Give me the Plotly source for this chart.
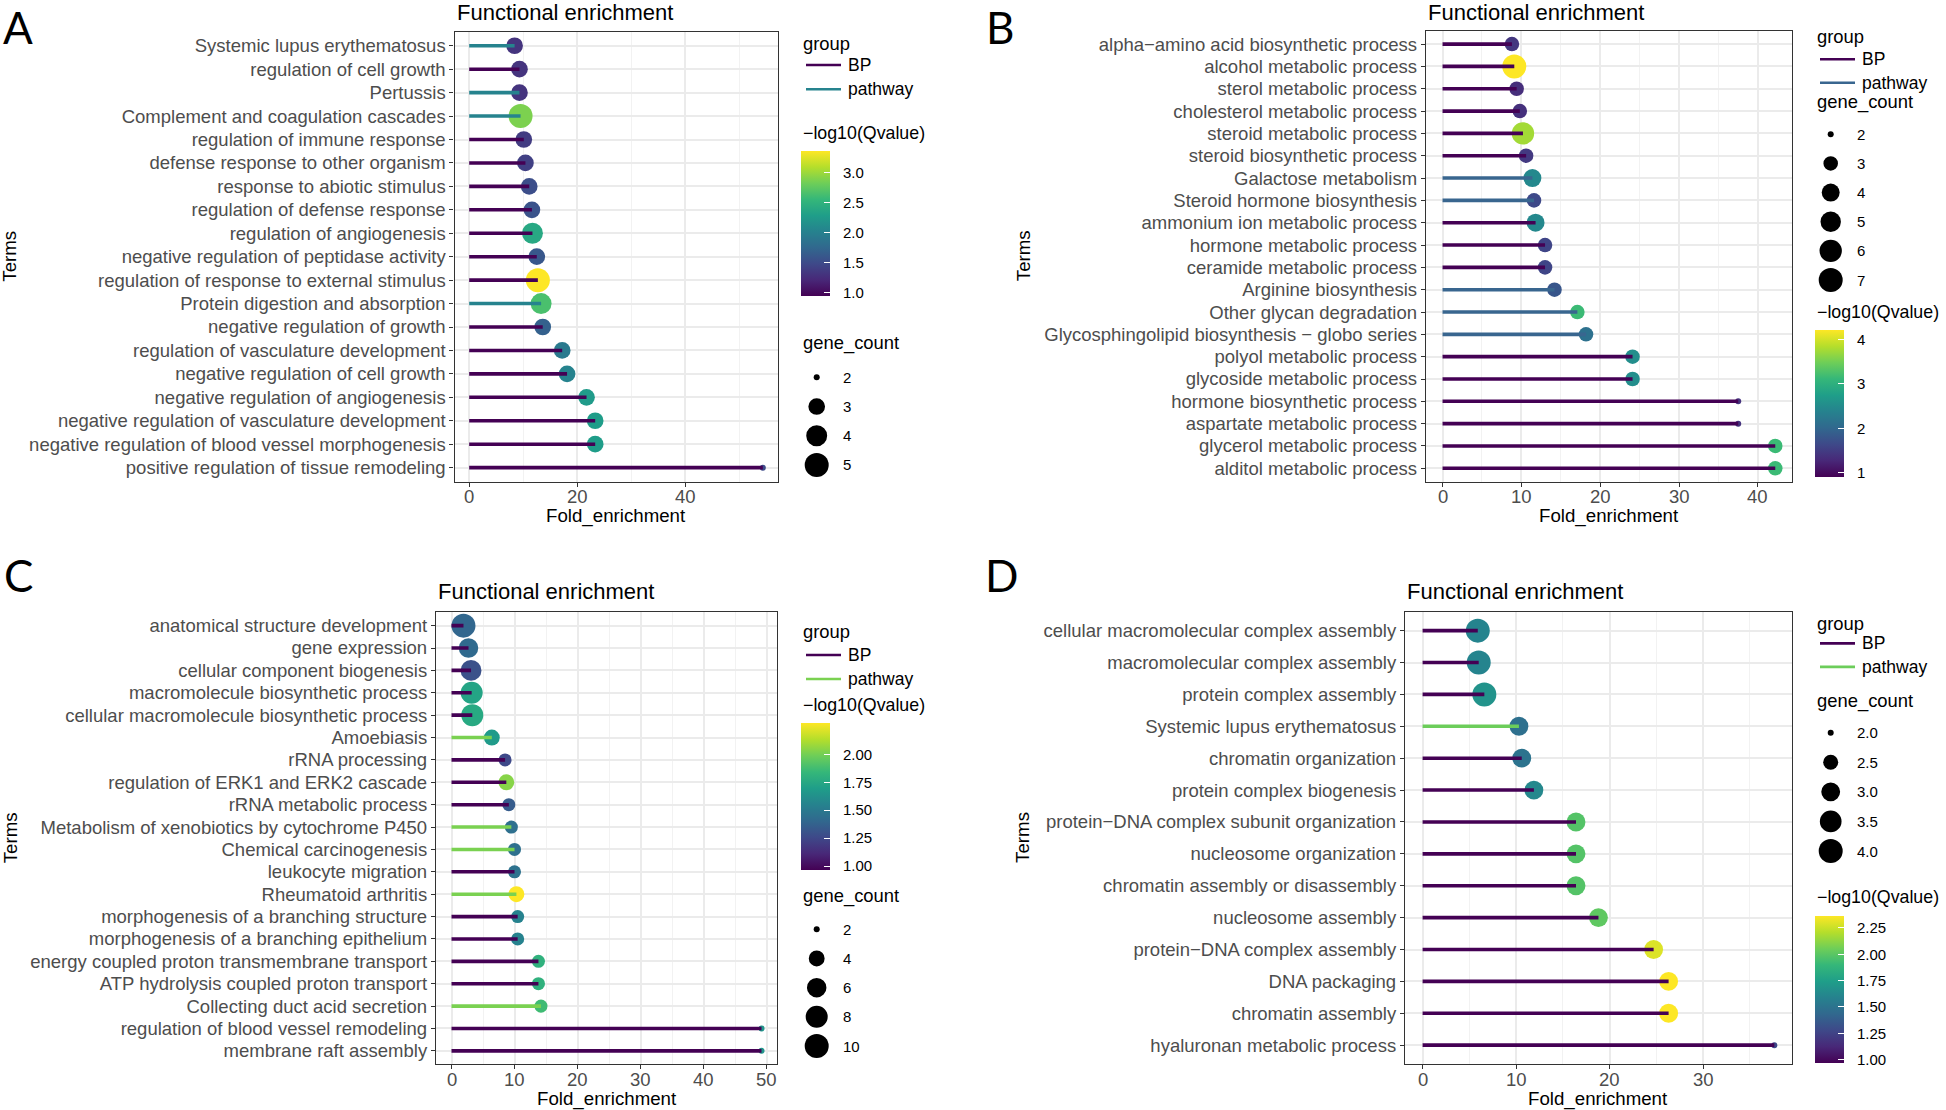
import math
import plotly.graph_objects as go

# ---------------- data ----------------
terms_a = ["Systemic lupus erythematosus", "regulation of cell growth", "Pertussis",
           "Complement and coagulation cascades", "regulation of immune response",
           "defense response to other organism", "response to abiotic stimulus",
           "regulation of defense response", "regulation of angiogenesis",
           "negative regulation of peptidase activity", "regulation of response to external stimulus",
           "Protein digestion and absorption", "negative regulation of growth",
           "regulation of vasculature development", "negative regulation of cell growth",
           "negative regulation of angiogenesis", "negative regulation of vasculature development",
           "negative regulation of blood vessel morphogenesis", "positive regulation of tissue remodeling"]
fold_a = [8.4, 9.3, 9.3, 9.5, 10.1, 10.4, 11.1, 11.6, 11.7, 12.5, 12.7, 13.3, 13.6,
          17.2, 18.1, 21.7, 23.3, 23.3, 54.3]
group_a = ["pathway", "BP", "pathway", "pathway", "BP", "BP", "BP", "BP", "BP", "BP", "BP",
           "pathway", "BP", "BP", "BP", "BP", "BP", "BP", "BP"]
q_a = [1.31, 1.31, 1.31, 2.87, 1.38, 1.41, 1.53, 1.57, 2.39, 1.60, 3.35, 2.65, 1.69,
       1.93, 2.03, 2.25, 2.27, 2.27, 1.50]
count_a = [3, 3, 3, 5, 3, 3, 3, 3, 4, 3, 5, 4, 3, 3, 3, 3, 3, 3, 2]

terms_b = ["alpha\u2212amino acid biosynthetic process", "alcohol metabolic process",
           "sterol metabolic process", "cholesterol metabolic process", "steroid metabolic process",
           "steroid biosynthetic process", "Galactose metabolism", "Steroid hormone biosynthesis",
           "ammonium ion metabolic process", "hormone metabolic process", "ceramide metabolic process",
           "Arginine biosynthesis", "Other glycan degradation",
           "Glycosphingolipid biosynthesis \u2212 globo series", "polyol metabolic process",
           "glycoside metabolic process", "hormone biosynthetic process", "aspartate metabolic process",
           "glycerol metabolic process", "alditol metabolic process"]
fold_b = [8.8, 9.1, 9.4, 9.8, 10.2, 10.6, 11.4, 11.6, 11.8, 13.0, 13.0, 14.2, 17.1, 18.2,
          24.1, 24.1, 37.5, 37.5, 42.2, 42.2]
group_b = ["BP", "BP", "BP", "BP", "BP", "BP", "pathway", "pathway", "BP", "BP", "BP",
           "pathway", "pathway", "pathway", "BP", "BP", "BP", "BP", "BP", "BP"]
q_b = [1.44, 4.21, 1.34, 1.37, 3.75, 1.47, 2.46, 1.64, 2.46, 1.60, 1.60, 1.80, 3.15, 2.13,
       2.53, 2.53, 1.40, 1.40, 3.15, 3.15]
count_b = [3, 7, 3, 3, 6, 3, 4, 3, 4, 3, 3, 3, 3, 3, 3, 3, 2, 2, 3, 3]

terms_c = ["anatomical structure development", "gene expression", "cellular component biogenesis",
           "macromolecule biosynthetic process", "cellular macromolecule biosynthetic process",
           "Amoebiasis", "rRNA processing", "regulation of ERK1 and ERK2 cascade",
           "rRNA metabolic process", "Metabolism of xenobiotics by cytochrome P450",
           "Chemical carcinogenesis", "leukocyte migration", "Rheumatoid arthritis",
           "morphogenesis of a branching structure", "morphogenesis of a branching epithelium",
           "energy coupled proton transmembrane transport", "ATP hydrolysis coupled proton transport",
           "Collecting duct acid secretion", "regulation of blood vessel remodeling",
           "membrane raft assembly"]
fold_c = [1.9, 2.7, 3.1, 3.2, 3.3, 6.4, 8.5, 8.7, 9.1, 9.5, 10.0, 10.0, 10.3, 10.5, 10.5,
          13.8, 13.8, 14.2, 49.2, 49.2]
group_c = ["BP", "BP", "BP", "BP", "BP", "pathway", "BP", "BP", "BP", "pathway", "pathway",
           "BP", "pathway", "BP", "BP", "BP", "BP", "pathway", "BP", "BP"]
q_c = [1.40, 1.42, 1.30, 1.73, 1.76, 1.68, 1.26, 2.04, 1.35, 1.45, 1.45, 1.46, 2.28, 1.55,
       1.55, 1.81, 1.81, 1.87, 1.65, 1.65]
count_c = [10, 6, 7, 8, 8, 4, 3, 4, 3, 3, 3, 3, 4, 3, 3, 3, 3, 3, 2, 2]

terms_d = ["cellular macromolecular complex assembly", "macromolecular complex assembly",
           "protein complex assembly", "Systemic lupus erythematosus", "chromatin organization",
           "protein complex biogenesis", "protein\u2212DNA complex subunit organization",
           "nucleosome organization", "chromatin assembly or disassembly", "nucleosome assembly",
           "protein\u2212DNA complex assembly", "DNA packaging", "chromatin assembly",
           "hyaluronan metabolic process"]
fold_d = [5.9, 6.0, 6.6, 10.3, 10.6, 11.9, 16.4, 16.4, 16.4, 18.8, 24.7, 26.3, 26.3, 37.6]
group_d = ["BP", "BP", "BP", "pathway", "BP", "BP", "BP", "BP", "BP", "BP", "BP", "BP", "BP", "BP"]
q_d = [1.60, 1.60, 1.68, 1.48, 1.50, 1.62, 1.98, 1.98, 1.98, 2.01, 2.29, 2.36, 2.36, 1.28]
count_d = [4, 4, 4, 3, 3, 3, 3, 3, 3, 3, 3, 3, 3, 2]

# legend / scale settings
qlim = {"A": (0.95, 3.35), "B": (0.91, 4.21), "C": (0.97, 2.28), "D": (0.97, 2.36)}
qticks = {"A": [1.0, 1.5, 2.0, 2.5, 3.0], "B": [1, 2, 3, 4],
          "C": [1.0, 1.25, 1.5, 1.75, 2.0], "D": [1.0, 1.25, 1.5, 1.75, 2.0, 2.25]}
qfmt = {"A": "{:.1f}", "B": "{:.0f}", "C": "{:.2f}", "D": "{:.2f}"}
size_keys = {"A": [2, 3, 4, 5], "B": [2, 3, 4, 5, 6, 7], "C": [2, 4, 6, 8, 10],
             "D": [2.0, 2.5, 3.0, 3.5, 4.0]}
size_fmt = {"A": "{:.0f}", "B": "{:.0f}", "C": "{:.0f}", "D": "{:.1f}"}

# ---------------- layout helpers ----------------
W, H = 1946, 1110
FONT = "Liberation Sans, Arial, sans-serif"
BP_COLOR = "#440154"


def px(x):
    return x / W


def py(y):
    return 1 - y / H


def dot(g, gmin, gmax):
    t = (math.sqrt(g) - math.sqrt(gmin)) / (math.sqrt(gmax) - math.sqrt(gmin))
    return 6 + 18 * t ** 0.55


panels = [
    dict(key="A", terms=terms_a, fold=fold_a, grp=group_a, q=q_a, cnt=count_a,
         dtick=20, path_color="#26838E", box=(454.5, 777.5, 31.7, 481.7), letter=(18, 27),
         terms_x=10, leg_x=801, grp_y=(43.3, 65, 89.3), q_title=132.7, cb=(151, 296),
         s_title=343.3, s_y=(377.3, 465)),
    dict(key="B", terms=terms_b, fold=fold_b, grp=group_b, q=q_b, cnt=count_b,
         dtick=10, path_color="#39668F", box=(1425.9, 1791.9, 30.7, 481.7), letter=(999.5, 27),
         terms_x=1023, leg_x=1815, grp_y=(36.7, 59.3, 82.7), q_title=311.7, cb=(330, 476.7),
         s_title=101.7, s_y=(134.3, 280)),
    dict(key="C", terms=terms_c, fold=fold_c, grp=group_c, q=q_c, cnt=count_c,
         dtick=10, path_color="#7AD151", box=(436, 777, 612.2, 1064.3), letter=(18.5, 575),
         terms_x=10, leg_x=801, grp_y=(631.7, 655, 679), q_title=705, cb=(722.7, 869.3),
         s_title=896, s_y=(929.3, 1046)),
    dict(key="D", terms=terms_d, fold=fold_d, grp=group_d, q=q_d, cnt=count_d,
         dtick=10, path_color="#6CCD5A", box=(1405, 1791.9, 611.5, 1064.3), letter=(1001, 575),
         terms_x=1023, leg_x=1815, grp_y=(623.7, 643.4, 666.9), q_title=897, cb=(916, 1063),
         s_title=700.8, s_y=(732.7, 851)),
]

fig = go.Figure()
annotations = []
shapes = []
layout_axes = {}


def ann(text, x, y, size, color="black", xanchor="left", angle=0, family=FONT, xref="paper"):
    annotations.append(dict(text=text, x=x if xref != "paper" else px(x), y=py(y),
                            xref=xref, yref="paper",
                            xanchor=xanchor, yanchor="middle", showarrow=False,
                            textangle=angle, font=dict(family=family, size=size, color=color)))


for i, p in enumerate(panels, start=1):
    k = p["key"]
    sfx = "" if i == 1 else str(i)
    xa, ya, ca = "x" + sfx, "y" + sfx, "coloraxis" + sfx
    n = len(p["terms"])
    gmin, gmax = min(p["cnt"]), max(p["cnt"])
    x0, x1, ytop, ybot = p["box"]

    # points first, segments drawn over them
    fig.add_trace(go.Scatter(
        x=p["fold"], y=p["terms"], mode="markers", xaxis=xa, yaxis=ya, showlegend=False,
        marker=dict(size=[dot(c, gmin, gmax) for c in p["cnt"]], color=p["q"],
                    coloraxis=ca, line=dict(width=0), opacity=1)))
    for g, col in (("BP", BP_COLOR), ("pathway", p["path_color"])):
        xs, ys = [], []
        for t, v, gg in zip(p["terms"], p["fold"], p["grp"]):
            if gg == g:
                xs += [0, v, None]
                ys += [t, t, None]
        fig.add_trace(go.Scatter(x=xs, y=ys, mode="lines", xaxis=xa, yaxis=ya,
                                 showlegend=False, line=dict(color=col, width=3.6)))

    xmax = max(p["fold"])
    common = dict(showline=True, mirror=True, linecolor="#333333", linewidth=1.3,
                  ticks="outside", ticklen=4, tickcolor="#333333", tickwidth=1.2,
                  tickfont=dict(family=FONT, size=18.5, color="#4D4D4D"),
                  showgrid=True, gridcolor="#EBEBEB", gridwidth=1.6, zeroline=False,
                  automargin=False)
    layout_axes["xaxis" + sfx] = dict(
        domain=[px(x0), px(x1)], anchor=ya, range=[-0.05 * xmax, 1.05 * xmax],
        tick0=0, dtick=p["dtick"], showticklabels=False,
        minor=dict(dtick=p["dtick"] / 2, showgrid=True, gridcolor="#F2F2F2", gridwidth=0.9),
        **common)
    layout_axes["yaxis" + sfx] = dict(
        domain=[py(ybot), py(ytop)], anchor=xa, type="category",
        categoryorder="array", categoryarray=p["terms"], range=[n - 0.4, -0.6], **common)

    # x tick labels placed on the data scale
    tv = 0
    while tv <= 1.05 * xmax:
        ann(str(tv), tv, ybot + 15, 18.5, color="#4D4D4D", xanchor="center", xref=xa)
        tv += p["dtick"]

    # colour scale
    cmin, cmax = qlim[k]
    cb0, cb1 = p["cb"]
    lx = p["leg_x"]
    layout_axes[ca] = dict(
        colorscale="Viridis", cmin=cmin, cmax=cmax,
        colorbar=dict(x=px(lx), xanchor="left", y=py(cb0), yanchor="top",
                      len=cb1 - cb0, lenmode="pixels", thickness=29, thicknessmode="pixels",
                      xpad=0, ypad=0, outlinewidth=0, tickvals=qticks[k], ticks="inside",
                      ticklen=6, tickcolor="white", tickwidth=1, showticklabels=False))
    for tq in qticks[k]:
        yy = cb1 - (tq - cmin) / (cmax - cmin) * (cb1 - cb0)
        ann(qfmt[k].format(tq), lx + 40, yy, 15)

    # titles and labels
    ann("Functional enrichment", x0, 12 if ytop < 100 else 591, 22)
    ann("Fold_enrichment", (x0 + x1) / 2, ybot + 34.5, 18.7, xanchor="center")
    ann("Terms", p["terms_x"], (ytop + ybot) / 2, 18.7, xanchor="center", angle=-90)
    ann(k, p["letter"][0], p["letter"][1], 44, xanchor="center",
        family="Lato, Open Sans, sans-serif")

    # group legend
    gy0, gy1, gy2 = p["grp_y"]
    ann("group", lx, gy0, 18.4)
    for yy, lab, col in ((gy1, "BP", BP_COLOR), (gy2, "pathway", p["path_color"])):
        shapes.append(dict(type="line", xref="paper", yref="paper", x0=px(lx + 5), x1=px(lx + 40),
                           y0=py(yy), y1=py(yy), line=dict(color=col, width=2.6)))
        ann(lab, lx + 45, yy, 17.5)

    # colour legend title
    ann("\u2212log10(Qvalue)", lx, p["q_title"], 17.8)

    # size legend
    ann("gene_count", lx, p["s_title"], 18.4)
    keys = size_keys[k]
    s0, s1 = p["s_y"]
    for j, kv in enumerate(keys):
        yy = s0 + j * (s1 - s0) / (len(keys) - 1)
        r = dot(kv, gmin, gmax) / 2
        cx = lx + 15.7
        shapes.append(dict(type="circle", xref="paper", yref="paper",
                           x0=px(cx - r), x1=px(cx + r), y0=py(yy + r), y1=py(yy - r),
                           fillcolor="black", line=dict(width=0)))
        ann(size_fmt[k].format(kv), lx + 40, yy, 15)

fig.update_layout(
    width=W, height=H, margin=dict(l=0, r=0, t=0, b=0), template="none",
    paper_bgcolor="white", plot_bgcolor="white", showlegend=False,
    annotations=annotations, shapes=shapes, font=dict(family=FONT),
    **layout_axes)

fig.write_html("out.html", config={"displayModeBar": False},
               post_script="document.body.style.margin='0';document.body.style.overflow='hidden';")
